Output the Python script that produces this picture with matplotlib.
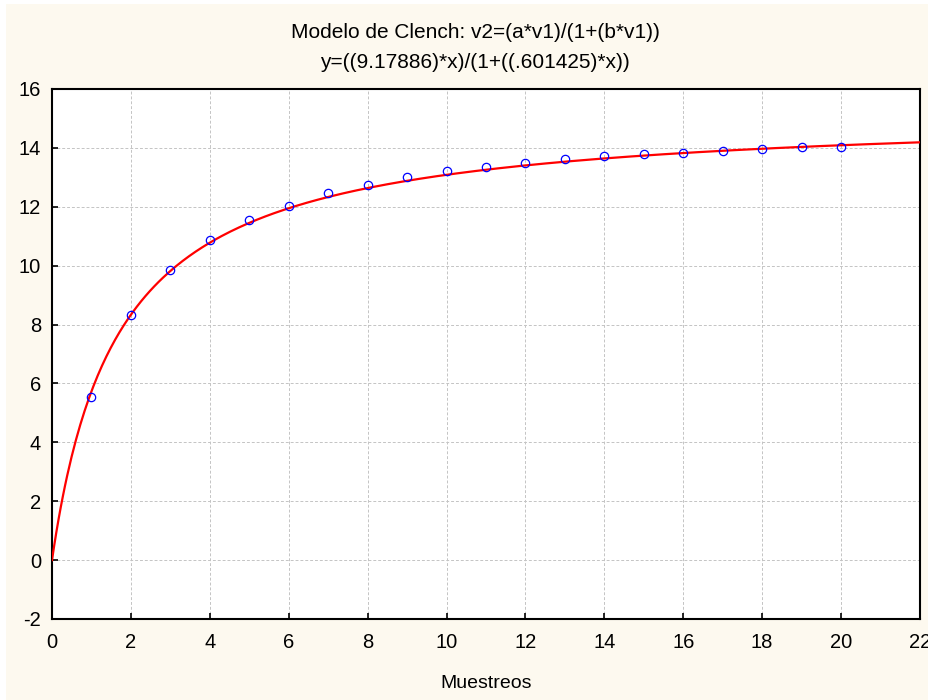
import numpy as np
import matplotlib.pyplot as plt
from matplotlib.patches import Rectangle

# Datos observados (muestreos vs. especies acumuladas)
muestreos = [1, 2, 3, 4, 5, 6, 7, 8, 9, 10, 11, 12, 13, 14, 15, 16, 17, 18, 19, 20]
especies = [5.55, 8.31, 9.86, 10.88, 11.56, 12.03, 12.47, 12.75, 13.02, 13.23,
            13.36, 13.49, 13.63, 13.71, 13.78, 13.84, 13.91, 13.97, 14.04, 14.04]

# Parámetros del modelo de Clench (del título)
a = 9.17886
b = 0.601425

xticks = [0, 2, 4, 6, 8, 10, 12, 14, 16, 18, 20, 22]
yticks = [-2, 0, 2, 4, 6, 8, 10, 12, 14, 16]

plt.rcParams['font.family'] = ['Liberation Sans', 'DejaVu Sans']
plt.rcParams['axes.unicode_minus'] = False

fig = plt.figure(figsize=(9.29, 7.0), dpi=100)
fig.patch.set_facecolor('white')
fig.patches.append(Rectangle((6 / 929, 0), 1, 696 / 700, transform=fig.transFigure,
                             facecolor='#fdf9ef', edgecolor='none', zorder=-5))

ax = fig.add_axes([52 / 929, 1 - 619 / 700, 868 / 929, 530 / 700])
ax.set_zorder(2)
ax.set_facecolor('white')

xs = np.linspace(0, 22, 400)
ax.plot(xs, a * xs / (1 + b * xs), color='red', linewidth=1.6, zorder=3)
ax.plot(muestreos, especies, linestyle='none', marker='o', markersize=6,
        markerfacecolor='none', markeredgecolor='blue', markeredgewidth=0.9, zorder=4)

ax.set_xlim(0, 22)
ax.set_ylim(-2, 16)
ax.set_xticks(xticks)
ax.set_yticks(yticks)
ax.tick_params(direction='in', length=4, width=1.2, labelsize=14.5, colors='black')
ax.tick_params(axis='x', pad=10)
ax.tick_params(axis='y', pad=8)
ax.grid(True, linestyle=(0, (3, 2)), linewidth=0.7, color='#c4c4c4')
ax.set_axisbelow(True)
for s in ax.spines.values():
    s.set_linewidth(1.5)
    s.set_color('black')

ax.set_xlabel("Muestreos", fontsize=14, labelpad=17)

fig.text(475 / 929, 1 - 32 / 700, "Modelo de Clench: v2=(a*v1)/(1+(b*v1))",
         ha='center', va='center', fontsize=15)
fig.text(475 / 929, 1 - 63 / 700, "y=((9.17886)*x)/(1+((.601425)*x))",
         ha='center', va='center', fontsize=15)

plt.savefig("out.png", dpi=100, facecolor=fig.get_facecolor())
